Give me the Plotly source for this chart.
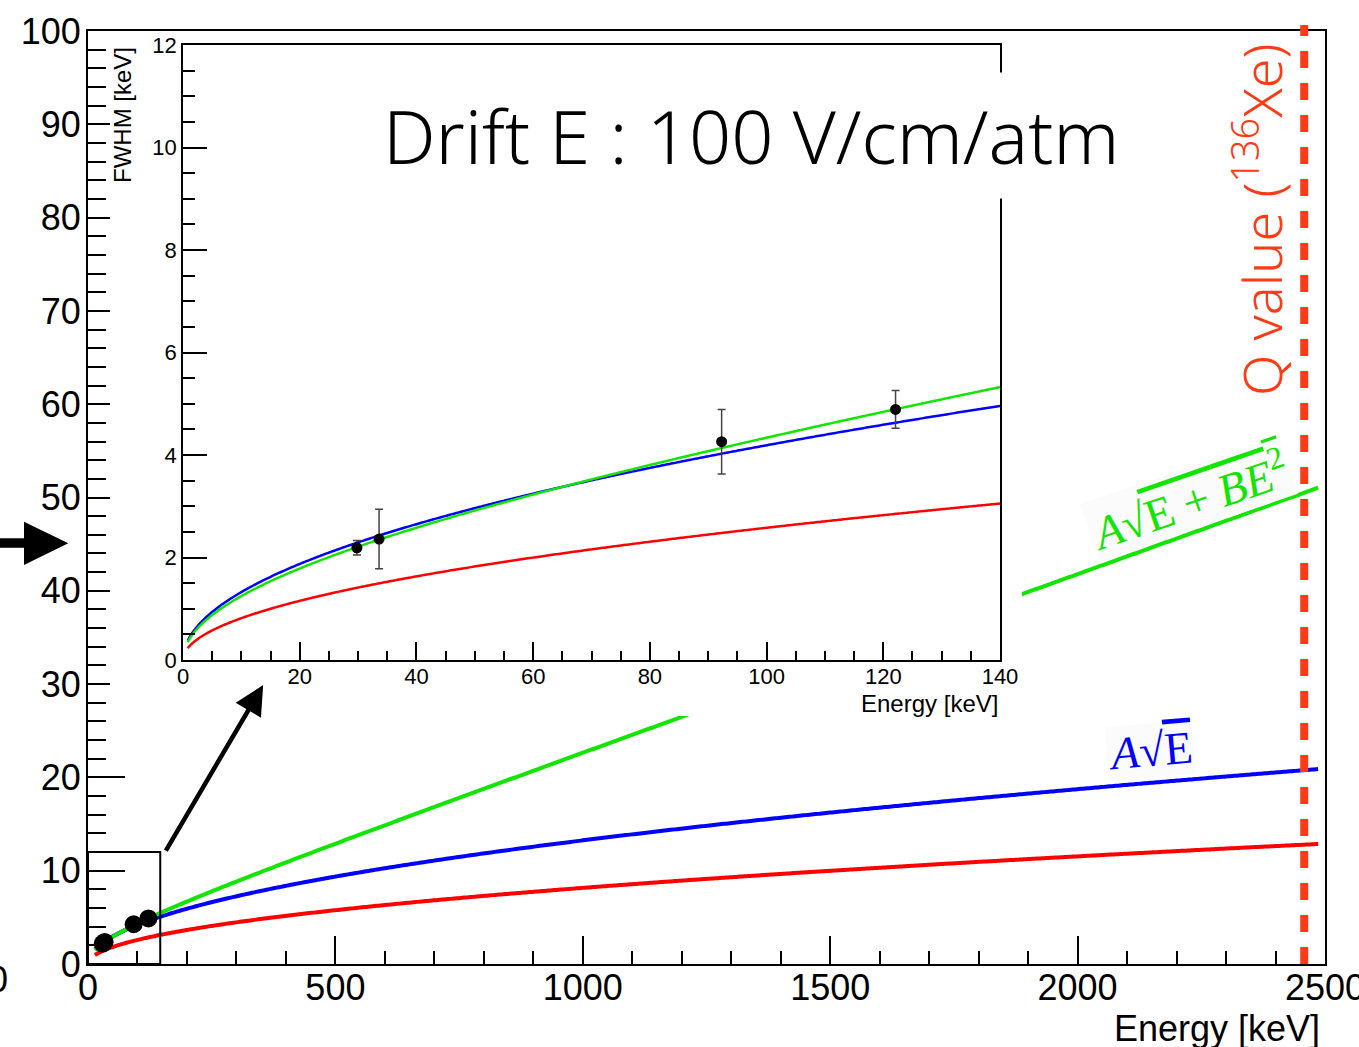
import numpy as np
import plotly.graph_objects as go

# Measured photo-peaks: energy [keV], resolution FWHM [keV] and its error
peak_energy = [29.8, 33.6, 92.3, 122.1]
peak_fwhm = [2.19, 2.36, 4.26, 4.89]
peak_err = [0.14, 0.58, 0.63, 0.37]

# Fit parameters of the resolution curves
a_sqrt = 0.419        # blue : A*sqrt(E)
a_quad = 0.390        # green: A*sqrt(E + B*E^2)
b_quad = 0.00237
a_intr = 0.258        # red  : intrinsic term
q_value = 2458.0      # Q value of 136Xe double beta decay [keV]

# Axis ticks
main_x_ticks = [0, 500, 1000, 1500, 2000, 2500]
main_y_ticks = [0, 10, 20, 30, 40, 50, 60, 70, 80, 90, 100]
inset_x_ticks = [0, 20, 40, 60, 80, 100, 120, 140]
inset_y_ticks = [0, 2, 4, 6, 8, 10, 12]

W, H = 1359, 1047
L, R, T, B = 88, 1325, 31, 964   # plot frame in pixels


def px(x):
    return (x - L) / (R - L)


def py(y):
    return (B - y) / (B - T)


def curves(e):
    e = np.asarray(e)
    return (a_intr * np.sqrt(e),
            a_sqrt * np.sqrt(e),
            a_quad * np.sqrt(e + b_quad * e ** 2))


RED, BLUE, GREEN = "#ff0000", "#0000ff", "#11e600"
QCOL = "#ff3a14"
SANS = "Liberation Sans, Arial, sans-serif"
SERIF = "Liberation Serif, Times New Roman, serif"
THIN = "Noto Sans, Lato, sans-serif"

fig = go.Figure()

# ---- main panel -----------------------------------------------------------
e_main = np.linspace(14, 2486, 600)
r_m, b_m, g_m = curves(e_main)
for yv, col in ((r_m, RED), (b_m, BLUE), (g_m, GREEN)):
    fig.add_trace(go.Scatter(x=e_main, y=yv, mode="lines", xaxis="x", yaxis="y",
                             line=dict(color=col, width=4, simplify=False), hoverinfo="skip"))
fig.add_trace(go.Scatter(x=peak_energy, y=peak_fwhm, mode="markers", xaxis="x", yaxis="y",
                         marker=dict(color="black", size=18)))

# ---- white backing card of the inset --------------------------------------
fig.add_trace(go.Scatter(x=[0, 1, 1, 0, 0], y=[0, 0, 1, 1, 0], mode="lines",
                         fill="toself", fillcolor="white", line=dict(width=0),
                         xaxis="x2", yaxis="y2", hoverinfo="skip"))

# ---- inset panel ------------------------------------------------------------
e_in = np.linspace(0.8, 140, 500)
r_i, b_i, g_i = curves(e_in)
for yv, col in ((r_i, RED), (b_i, BLUE), (g_i, GREEN)):
    fig.add_trace(go.Scatter(x=e_in, y=yv, mode="lines", xaxis="x3", yaxis="y3",
                             line=dict(color=col, width=2.5, simplify=False), hoverinfo="skip"))
fig.add_trace(go.Scatter(x=peak_energy, y=peak_fwhm, mode="markers", xaxis="x3", yaxis="y3",
                         marker=dict(color="black", size=11),
                         error_y=dict(type="data", array=peak_err, color="#444444",
                                      thickness=1.5, width=4)))

axis_common = dict(showline=True, linecolor="black", mirror=True, ticks="inside",
                   tickcolor="black", showgrid=False, zeroline=False,
                   ticklabeloverflow="allow", automargin=False)

fig.update_layout(
    template="none",
    width=W, height=H, autosize=False,
    margin=dict(l=L, r=W - R, t=T, b=H - B, pad=0),
    paper_bgcolor="white", plot_bgcolor="white",
    showlegend=False,
    xaxis=dict(axis_common, domain=[0, 1], range=[0, 2500], anchor="y",
               linewidth=2, tickwidth=2, ticklen=28, ticklabelstandoff=-9,
               tickmode="array", tickvals=main_x_ticks, ticktext=[str(v) for v in main_x_ticks],
               tickfont=dict(family=SANS, size=36, color="black"),
               minor=dict(ticks="inside", ticklen=13, tickwidth=2, tickcolor="black", dtick=100)),
    yaxis=dict(axis_common, domain=[0, 1], range=[0, 100], anchor="x",
               linewidth=2, tickwidth=2, ticklen=37, ticklabelstandoff=-2,
               tickmode="array", tickvals=main_y_ticks, ticktext=[str(v) for v in main_y_ticks],
               tickfont=dict(family=SANS, size=36, color="black"),
               minor=dict(ticks="inside", ticklen=18, tickwidth=2, tickcolor="black", dtick=2)),
    xaxis2=dict(domain=[px(110), px(1022)], range=[0, 1], visible=False, anchor="y2",
                automargin=False),
    yaxis2=dict(domain=[py(716), py(33)], range=[0, 1], visible=False, anchor="x2",
                automargin=False),
    xaxis3=dict(axis_common, domain=[px(183), px(1000)], range=[0, 140], anchor="y3",
                linewidth=1.5, tickwidth=1.5, ticklen=18, ticklabelstandoff=-4,
                tickmode="array", tickvals=inset_x_ticks, ticktext=[str(v) for v in inset_x_ticks],
                tickfont=dict(family=SANS, size=22, color="black"),
                minor=dict(ticks="inside", ticklen=9, tickwidth=1.5, tickcolor="black", dtick=5)),
    yaxis3=dict(axis_common, domain=[py(660), py(45)], range=[0, 12], anchor="x3",
                linewidth=1.5, tickwidth=1.5, ticklen=24,
                tickmode="array", tickvals=inset_y_ticks, ticktext=[str(v) for v in inset_y_ticks],
                tickfont=dict(family=SANS, size=22, color="black"),
                minor=dict(ticks="inside", ticklen=12, tickwidth=1.5, tickcolor="black", dtick=0.5)),
)

# zoom window on the main panel and the Q-value marker
fig.add_shape(type="rect", xref="x", yref="y", x0=0, x1=146, y0=0, y1=12,
              line=dict(color="black", width=2))
fig.add_shape(type="line", xref="x", yref="paper", x0=q_value, x1=q_value,
              y0=0, y1=py(25), line=dict(color=QCOL, width=8, dash="17px,15px"))

# big pointer arrow on the left edge
arrow_pts = [(-6, 538.3), (24, 538.3), (24, 521.7), (68.3, 543.3),
             (24, 565), (24, 547.7), (-6, 547.7)]
path = "M " + " L ".join(f"{px(x):.5f},{py(y):.5f}" for x, y in arrow_pts) + " Z"
fig.add_shape(type="path", xref="paper", yref="paper", path=path,
              fillcolor="black", line=dict(width=0), layer="above")

annotations = [
    # arrow from zoom window to inset
    dict(xref="x", yref="y", axref="x", ayref="y", x=354, y=29.9, ax=155.6, ay=12.0,
         showarrow=True, arrowhead=2, arrowwidth=4.5, arrowsize=1.3, arrowcolor="black",
         text=""),
    dict(xref="paper", yref="paper", x=px(1322), y=py(1028), xanchor="right", yanchor="middle",
         text="Energy [keV]", showarrow=False, font=dict(family=SANS, size=36, color="black")),
    dict(xref="paper", yref="paper", x=px(1000), y=py(703), xanchor="right", yanchor="middle",
         text="Energy [keV]", showarrow=False, font=dict(family=SANS, size=24, color="black")),
    dict(xref="paper", yref="paper", x=px(122), y=py(45), xanchor="center", yanchor="top",
         text="FWHM [keV]", textangle=-90, showarrow=False,
         font=dict(family=SANS, size=24, color="black")),
    dict(xref="paper", yref="paper", x=px(751), y=py(135), xanchor="center", yanchor="middle",
         text="Drift E : 100 V/cm/atm", showarrow=False, bgcolor="white", borderpad=12,
         font=dict(family=THIN, size=74, color="black", weight=300)),
    dict(xref="paper", yref="paper", x=px(1259), y=py(220), xanchor="center", yanchor="middle",
         text="Q value (<sup>136</sup>Xe)", textangle=-90, showarrow=False,
         font=dict(family=THIN, size=54, color=QCOL, weight=300)),
    dict(xref="paper", yref="paper", x=px(1189), y=py(499), xanchor="center", yanchor="middle",
         text="<i>A</i>√<span style='text-decoration:overline'>E + <i>BE</i><sup>2</sup></span>",
         textangle=-19, showarrow=False, bgcolor="#fbfbfb",
         font=dict(family=SERIF, size=46, color=GREEN)),
    dict(xref="paper", yref="paper", x=px(1150), y=py(750), xanchor="center", yanchor="middle",
         text="<i>A</i>√<span style='text-decoration:overline'>E</span>",
         textangle=-5, showarrow=False, bgcolor="#fbfbfb",
         font=dict(family=SERIF, size=46, color=BLUE)),
    # clipped label at the left border
    dict(xref="paper", yref="paper", x=px(10), y=py(980), xanchor="right", yanchor="middle",
         text="0", showarrow=False, font=dict(family=SANS, size=36, color="black")),
]
for a in annotations:
    fig.add_annotation(a)

fig.write_html("out.html")
